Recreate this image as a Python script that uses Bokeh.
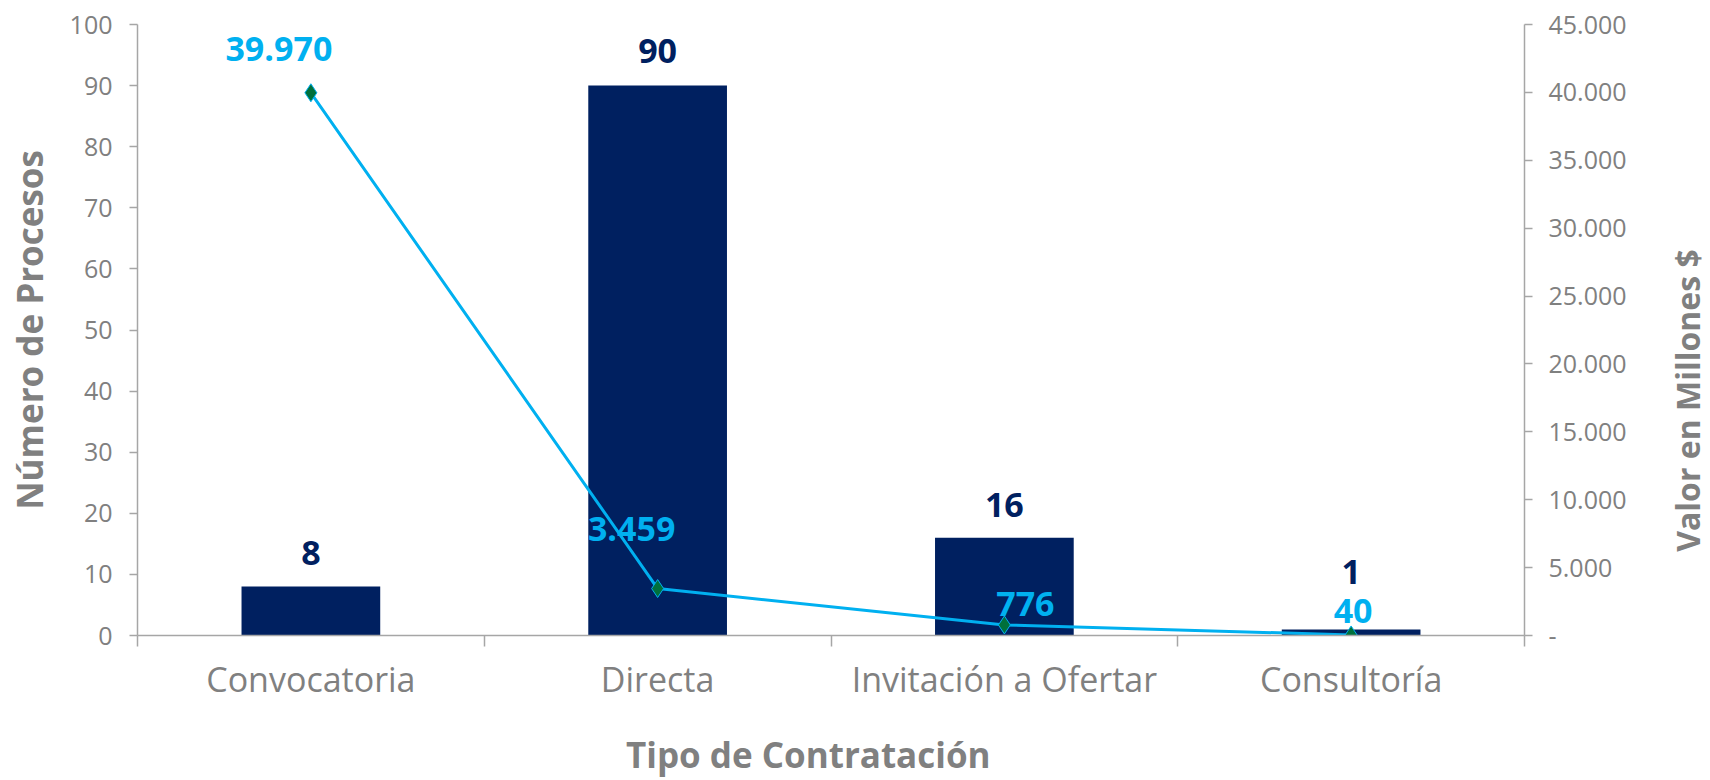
import math
from bokeh.plotting import figure
from bokeh.layouts import row
from bokeh.models import Range1d, LinearAxis, FixedTicker, ColumnDataSource, LabelSet, Label
from bokeh.core.properties import value
from bokeh.embed import file_html
from bokeh.resources import INLINE

# ---------------- data ----------------
categorias = ["Convocatoria", "Directa", "Invitación a Ofertar", "Consultoría"]
procesos = [8, 90, 16, 1]
valor_millones = [39970, 3459, 776, 40]
ticks_procesos = list(range(0, 101, 10))
ticks_valor = list(range(0, 45001, 5000))

titulo_x = "Tipo de Contratación"
titulo_y1 = "Número de Procesos"
titulo_y2 = "Valor en Millones $"

# label nudges (pixels) – styling only
bar_lbl_dy = [34, 35, 33, 57]
line_lbl_dx = [-32, -26, 21, 2]
line_lbl_dy = [44, 60, 21, 24]


def miles(v):
    return "-" if v == 0 else f"{v:,}".replace(",", ".")


NAVY = "#002060"
CYAN = "#00B0F0"
GREEN = "#00703C"
GRAY_TXT = "#808080"
GRAY_AX = "#A6A6A6"
FONT = "Open Sans"
NBSP = "\u00a0"

W_SIDE = 60
W, H = 1710 - W_SIDE, 780
FRAME_TOP, FRAME_BOTTOM = 24, 635
n = len(categorias)
xpos = list(range(n))

p = figure(width=W, height=H, output_backend="svg", toolbar_location=None,
           x_range=Range1d(-0.5, n - 0.5), y_range=Range1d(0, 100),
           min_border_left=137, min_border_right=W - 1524,
           min_border_top=FRAME_TOP, min_border_bottom=H - FRAME_BOTTOM)
p.extra_y_ranges = {"valor": Range1d(0, 45000)}
p.outline_line_color = None
p.xgrid.visible = False
p.ygrid.visible = False
p.background_fill_color = "white"
p.border_fill_color = "white"

src = ColumnDataSource(dict(
    x=xpos, procesos=procesos, valor=valor_millones,
    plbl=[str(v) for v in procesos], vlbl=[miles(v) for v in valor_millones],
    bdy=bar_lbl_dy, ldx=line_lbl_dx, ldy=line_lbl_dy,
))

p.vbar(x="x", top="procesos", width=0.4, source=src, fill_color=NAVY, line_color=None)
p.line(x="x", y="valor", source=src, y_range_name="valor", line_color=CYAN, line_width=3)
p.scatter(x="x", y="valor", source=src, y_range_name="valor", marker="diamond",
          size=18, fill_color=GREEN, line_color=CYAN, line_width=1)


def title_style(ax, standoff, size):
    ax.axis_label_text_font = FONT
    ax.axis_label_text_font_style = "bold"
    ax.axis_label_text_font_size = size
    ax.axis_label_text_color = GRAY_TXT
    ax.axis_label_standoff = standoff


# x axis
xa = p.xaxis[0]
xa.ticker = FixedTicker(ticks=xpos, minor_ticks=[i - 0.5 for i in range(n + 1)])
xa.major_label_overrides = {i: c for i, c in zip(xpos, categorias)}
xa.major_tick_line_color = None
xa.major_tick_out = 0
xa.major_tick_in = 0
xa.minor_tick_line_color = GRAY_AX
xa.minor_tick_out = 11
xa.minor_tick_in = 0
xa.minor_tick_line_width = 1.5
xa.axis_line_color = GRAY_AX
xa.axis_line_width = 1.5
xa.major_label_text_font = FONT
xa.major_label_text_font_size = "34px"
xa.major_label_text_color = GRAY_TXT
xa.major_label_standoff = 9
xa.axis_label = titulo_x + NBSP * 5
title_style(xa, 26, "35px")

# left y axis
ya = p.yaxis[0]
ya.ticker = FixedTicker(ticks=ticks_procesos)
ya.minor_tick_line_color = None
ya.major_tick_in = 0
ya.major_tick_out = 8
ya.major_tick_line_color = GRAY_AX
ya.major_tick_line_width = 1.5
ya.axis_line_color = GRAY_AX
ya.axis_line_width = 1.5
ya.major_label_text_font = FONT
ya.major_label_text_font_size = "25px"
ya.major_label_text_color = GRAY_TXT
ya.major_label_standoff = 17
ya.axis_label = titulo_y1
title_style(ya, 14, "35px")

# right y axis
ra = LinearAxis(y_range_name="valor")
ra.ticker = FixedTicker(ticks=ticks_valor)
ra.major_label_overrides = {v: miles(v) for v in ticks_valor}
ra.minor_tick_line_color = None
ra.major_tick_in = 0
ra.major_tick_out = 8
ra.major_tick_line_color = GRAY_AX
ra.major_tick_line_width = 1.5
ra.axis_line_color = GRAY_AX
ra.axis_line_width = 1.5
ra.major_label_text_font = FONT
ra.major_label_text_font_size = "25px"
ra.major_label_text_color = GRAY_TXT
ra.major_label_standoff = 16
p.add_layout(ra, "right")

# data labels
p.add_layout(LabelSet(x="x", y="procesos", text="plbl", source=src, y_offset="bdy",
                      text_align="center", text_baseline="middle",
                      text_font=value(FONT), text_font_style="bold", text_font_size="34px",
                      text_color=NAVY))
p.add_layout(LabelSet(x="x", y="valor", text="vlbl", source=src, y_range_name="valor",
                      x_offset="ldx", y_offset="ldy",
                      text_align="center", text_baseline="middle",
                      text_font=value(FONT), text_font_style="bold", text_font_size="34px",
                      text_color=CYAN))

# side strip holding the right-hand title (reads bottom to top);
# its frame lines up with the main frame, so its y range is in page pixels from the top
side = figure(width=W_SIDE, height=H, output_backend="svg", toolbar_location=None,
              x_range=Range1d(0, W_SIDE), y_range=Range1d(FRAME_BOTTOM, FRAME_TOP),
              x_axis_location=None, y_axis_location=None,
              min_border=0, min_border_left=0, min_border_right=0,
              min_border_top=FRAME_TOP, min_border_bottom=H - FRAME_BOTTOM)
side.outline_line_color = None
side.xgrid.visible = False
side.ygrid.visible = False
side.background_fill_color = "white"
side.border_fill_color = "white"
side.add_layout(Label(x=37, y=400, text=titulo_y2, angle=math.pi / 2,
                      text_align="center", text_baseline="middle",
                      text_font=FONT, text_font_style="bold", text_font_size="32px",
                      text_color=GRAY_TXT))

layout = row(p, side, spacing=0)
open("out.html", "w").write(file_html(layout, INLINE))
